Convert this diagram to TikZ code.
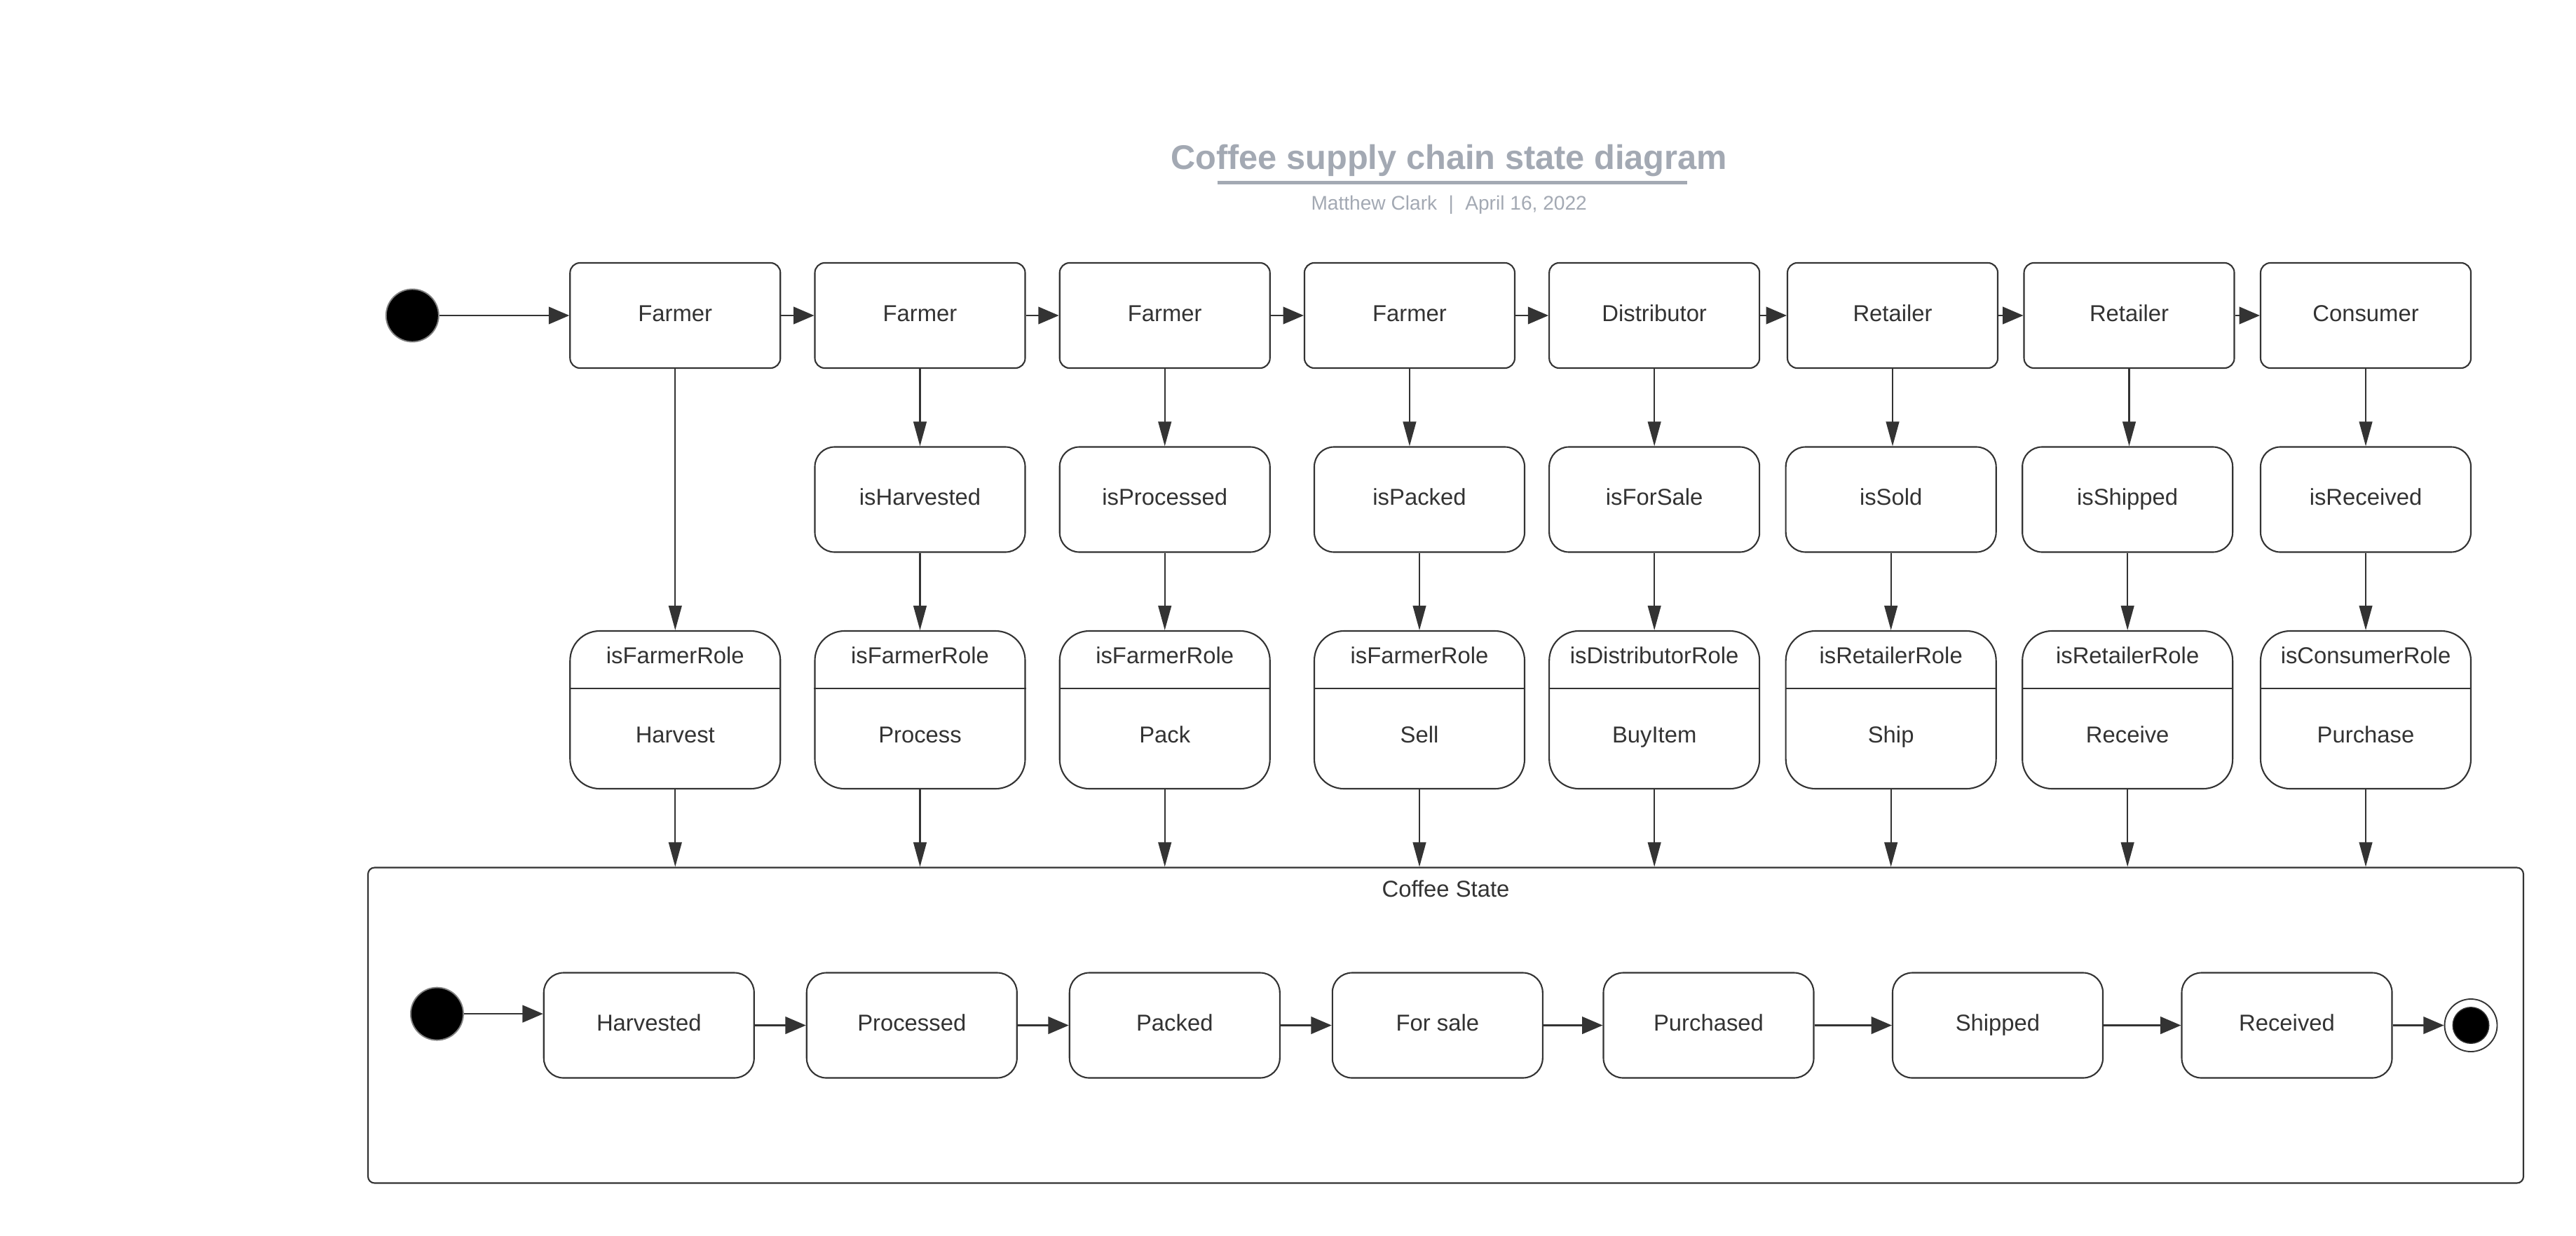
\documentclass[tikz,border=0pt]{standalone}
\usepackage{fontspec}
\setmainfont{Liberation Sans}
\usetikzlibrary{arrows.meta}
\definecolor{ink}{HTML}{333333}
\definecolor{titlegrey}{HTML}{A3A9B3}
\definecolor{dotrim}{HTML}{808080}
\begin{document}
\begin{tikzpicture}[x=1pt,y=-1pt,
  every node/.style={font=\fontsize{14}{16}\selectfont, text=ink},
  txt/.style={text height=10pt, text depth=3pt},
  rolebox/.style={txt, draw=ink, line width=0.9pt, rounded corners=6pt, minimum width=128pt, minimum height=64pt, inner sep=0pt},
  condbox/.style={txt, draw=ink, line width=0.9pt, rounded corners=12pt, minimum width=128pt, minimum height=64pt, inner sep=0pt},
  actbox/.style={draw=ink, line width=0.9pt, rounded corners=18pt, minimum width=128pt, minimum height=96pt, inner sep=0pt},
  statebox/.style={txt, draw=ink, line width=0.9pt, rounded corners=12pt, minimum width=128pt, minimum height=64pt, inner sep=0pt},
  initdot/.style={circle, fill=black, draw=dotrim, line width=0.8pt, minimum size=32pt, inner sep=0pt},
  hz/.style={draw=ink, line width=0.9pt, -{Triangle[length=12.5pt,width=10.5pt]}},
  vt/.style={draw=ink, line width=0.9pt, -{Triangle[length=15pt,width=8pt]}},
  lbl/.style={txt, inner sep=0pt}
]
\useasboundingbox (0,0) rectangle (1568,752);
\fill[white] (0,0) rectangle (1568,752);

% title
\node[inner sep=0pt, text=titlegrey, font=\fontsize{20.8}{24}\selectfont\bfseries] (title) at (882,97.5) {Coffee supply chain state diagram};
\draw[titlegrey, line width=2pt] (741,111) -- (1027,111);
\node[inner sep=0pt, text=titlegrey, font=\fontsize{12}{14}\selectfont] (sub) at (882,124.5) {Matthew Clark\hspace{7pt}|\hspace{7pt}April 16, 2022};

% top row
\node[initdot] (start) at (251,192) {};
\foreach \n/\x/\t in {f1/411/Farmer, f2/560/Farmer, f3/709/Farmer, f4/858/Farmer, f5/1007/Distributor, f6/1152/Retailer, f7/1296/Retailer, f8/1440/Consumer}
  \node[rolebox] (\n) at (\x,192) {\t};

% condition row
\foreach \n/\x/\t in {c2/560/isHarvested, c3/709/isProcessed, c4/864/isPacked, c5/1007/isForSale, c6/1151/isSold, c7/1295/isShipped, c8/1440/isReceived}
  \node[condbox] (\n) at (\x,304) {\t};

% action row
\foreach \n/\x/\h/\b in {a1/411/isFarmerRole/Harvest, a2/560/isFarmerRole/Process, a3/709/isFarmerRole/Pack, a4/864/isFarmerRole/Sell, a5/1007/isDistributorRole/BuyItem, a6/1151/isRetailerRole/Ship, a7/1295/isRetailerRole/Receive, a8/1440/isConsumerRole/Purchase}{
  \node[actbox] (\n) at (\x,432) {};
  \draw[ink, line width=0.7pt] (\n.west |- 0,419) -- (\n.east |- 0,419);
  \node[lbl] (\n h) at (\x,400.5) {\h};
  \node[lbl] (\n b) at (\x,448.5) {\b};
}

% container
\node[draw=ink, line width=0.9pt, rounded corners=4pt, minimum width=1312pt, minimum height=192pt, inner sep=0pt] (cont) at (880,624) {};
\node[lbl] (contlbl) at (880,542.5) {Coffee State};

% inner states
\node[initdot] (istart) at (266,617) {};
\foreach \n/\x/\t in {s1/395/Harvested, s2/555/Processed, s3/715/Packed, s4/875/For sale, s5/1040/Purchased, s6/1216/Shipped, s7/1392/Received}
  \node[statebox] (\n) at (\x,624) {\t};
\node[circle, draw=ink, line width=0.8pt, minimum size=32pt, inner sep=0pt] (fin) at (1504,624) {};
\node[circle, fill=black, draw=ink, line width=0.6pt, minimum size=22pt, inner sep=0pt] (findot) at (fin) {};

% top row arrows
\draw[hz] (start) -- (f1);
\draw[hz] (f1) -- (f2);
\draw[hz] (f2) -- (f3);
\draw[hz] (f3) -- (f4);
\draw[hz] (f4) -- (f5);
\draw[hz] (f5) -- (f6);
\draw[hz] (f6) -- (f7);
\draw[hz] (f7) -- (f8);

% vertical arrows
\draw[vt] (f1.south) -- (f1.south |- a1.north);
\foreach \i in {2,...,8}{
  \draw[vt] (f\i.south) -- (f\i.south |- c\i.north);
  \draw[vt] (c\i.south) -- (c\i.south |- a\i.north);
}
\foreach \i in {1,...,8}
  \draw[vt] (a\i.south) -- (a\i.south |- cont.north);

% inner arrows
\draw[hz] (istart) -- (istart -| s1.west);
\draw[hz] (s1) -- (s2);
\draw[hz] (s2) -- (s3);
\draw[hz] (s3) -- (s4);
\draw[hz] (s4) -- (s5);
\draw[hz] (s5) -- (s6);
\draw[hz] (s6) -- (s7);
\draw[hz] (s7) -- (fin);
\end{tikzpicture}
\end{document}
